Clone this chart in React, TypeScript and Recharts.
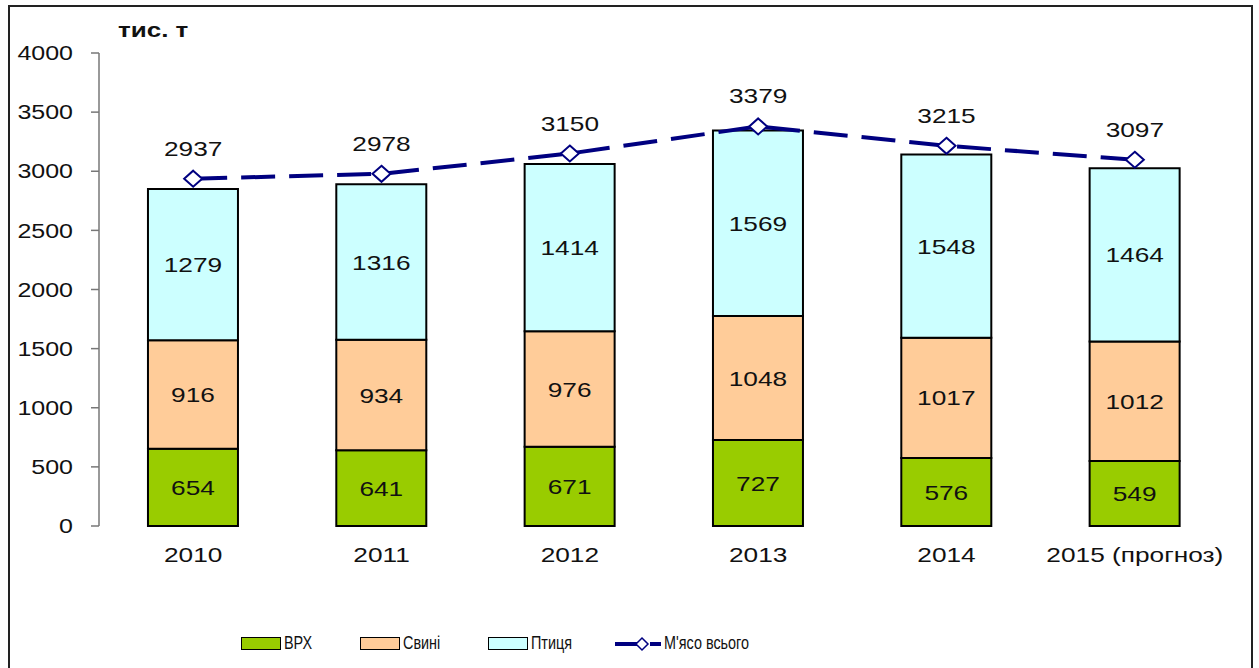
import { ComposedChart, Bar, Line, XAxis, YAxis, LabelList } from "recharts";

const years = ["2010", "2011", "2012", "2013", "2014", "2015 (прогноз)"];
const cattle = [654, 641, 671, 727, 576, 549];
const pigs = [916, 934, 976, 1048, 1017, 1012];
const poultry = [1279, 1316, 1414, 1569, 1548, 1464];
const totalMeat = [2937, 2978, 3150, 3379, 3215, 3097];
const yTicks = [0, 500, 1000, 1500, 2000, 2500, 3000, 3500, 4000];

const NAVY = "#000080";
const FONT = "'Liberation Sans', Arial, sans-serif";
const SX = 1.25; // source text is stretched horizontally

const data = years.map((year, i) => ({
  year,
  cattle: cattle[i],
  pigs: pigs[i],
  poultry: poultry[i],
  total: totalMeat[i],
}));

function WideText({ x, y, anchor, size, dy, children }: any) {
  return (
    <text
      transform={`translate(${x},${y}) scale(${SX},1)`}
      textAnchor={anchor}
      dy={dy}
      fontSize={size}
      fontFamily={FONT}
      fill="#111"
    >
      {children}
    </text>
  );
}

function YTick({ x, y, payload }: any) {
  return <WideText x={x} y={y} anchor="end" size={20} dy="0.36em">{payload.value}</WideText>;
}

function XTick({ x, y, payload }: any) {
  return <WideText x={x} y={y} anchor="middle" size={21} dy="0.71em">{payload.value}</WideText>;
}

function BarLabel(props: any) {
  const vb = props.viewBox ?? props;
  const cx = vb.x + (vb.width ?? 0) / 2;
  const cy = vb.y + (vb.height ?? 0) / 2;
  return <WideText x={cx} y={cy} anchor="middle" size={21} dy="0.36em">{props.value}</WideText>;
}

function LineLabel(props: any) {
  const vb = props.viewBox ?? props;
  return <WideText x={vb.x} y={vb.y - 23} anchor="middle" size={21}>{props.value}</WideText>;
}

function Diamond({ cx, cy }: { cx?: number; cy?: number }) {
  if (cx == null || cy == null) return null;
  const rx = 9;
  const ry = 8;
  return (
    <path
      d={`M${cx},${cy - ry} L${cx + rx},${cy} L${cx},${cy + ry} L${cx - rx},${cy} Z`}
      fill="#fff"
      stroke={NAVY}
      strokeWidth={2}
    />
  );
}

function LegendText({ children }: { children: string }) {
  return (
    <span style={{ display: "inline-block", transform: "scale(0.8,1)", transformOrigin: "left center", whiteSpace: "nowrap" }}>
      {children}
    </span>
  );
}

function LegendBox({ color, label }: { color: string; label: string }) {
  return (
    <div style={{ display: "flex", alignItems: "center", gap: 3 }}>
      <span style={{ width: 38, height: 11, background: color, border: "1.5px solid #000", display: "inline-block" }} />
      <LegendText>{label}</LegendText>
    </div>
  );
}

export default function App() {
  return (
    <div style={{ position: "absolute", left: 0, top: 0, width: 1259, height: 668, overflow: "hidden", background: "#fff" }}>
      <div style={{ position: "absolute", left: 8, top: 5, width: 1241, height: 700, border: "2px solid #222" }} />
      <div
        style={{
          position: "absolute",
          left: 118,
          top: 19,
          fontFamily: FONT,
          fontWeight: "bold",
          fontSize: 20,
          color: "#111",
          transform: "scale(1.3,1)",
          transformOrigin: "left center",
        }}
      >
        тис. т
      </div>
      <div style={{ position: "absolute", left: 0, top: 0 }}>
        <ComposedChart width={1259} height={668} data={data} margin={{ top: 53, right: 30, bottom: 102, left: 0 }} barCategoryGap="26%">
          <XAxis
            type="number"
            domain={[0, 6]}
            ticks={[0, 1, 2, 3, 4, 5, 6]}
            tick={false}
            tickSize={8}
            height={0}
            allowDataOverflow
            axisLine={{ stroke: "#777", strokeWidth: 1.5 }}
            tickLine={{ stroke: "#777", strokeWidth: 1.5 }}
          />
          <XAxis
            xAxisId="cat"
            dataKey="year"
            height={40}
            axisLine={false}
            tickLine={false}
            tickSize={0}
            tickMargin={21}
            tick={<XTick />}
            interval={0}
          />
          <YAxis
            width={99}
            domain={[0, 4000]}
            ticks={yTicks}
            tickSize={8}
            tickMargin={18}
            axisLine={{ stroke: "#777", strokeWidth: 1.5 }}
            tickLine={{ stroke: "#777", strokeWidth: 1.5 }}
            tick={<YTick />}
          />
          <Bar xAxisId="cat" dataKey="cattle" stackId="a" fill="#99CC00" stroke="#000" strokeWidth={2} isAnimationActive={false}>
            <LabelList dataKey="cattle" content={<BarLabel />} />
          </Bar>
          <Bar xAxisId="cat" dataKey="pigs" stackId="a" fill="#FFCC99" stroke="#000" strokeWidth={2} isAnimationActive={false}>
            <LabelList dataKey="pigs" content={<BarLabel />} />
          </Bar>
          <Bar xAxisId="cat" dataKey="poultry" stackId="a" fill="#CCFFFF" stroke="#000" strokeWidth={2} isAnimationActive={false}>
            <LabelList dataKey="poultry" content={<BarLabel />} />
          </Bar>
          <Line
            xAxisId="cat"
            dataKey="total"
            type="linear"
            stroke={NAVY}
            strokeWidth={4}
            strokeDasharray="34 14"
            dot={<Diamond />}
            activeDot={false}
            isAnimationActive={false}
          >
            <LabelList dataKey="total" content={<LineLabel />} />
          </Line>
        </ComposedChart>
      </div>
      <div
        style={{
          position: "absolute",
          top: 633,
          left: 241,
          display: "flex",
          alignItems: "center",
          fontFamily: FONT,
          fontSize: 18,
          color: "#111",
        }}
      >
        <div style={{ width: 119 }}><LegendBox color="#99CC00" label="ВРХ" /></div>
        <div style={{ width: 128 }}><LegendBox color="#FFCC99" label="Свині" /></div>
        <div style={{ width: 127 }}><LegendBox color="#CCFFFF" label="Птиця" /></div>
        <div style={{ display: "flex", alignItems: "center", gap: 3 }}>
          <svg width={46} height={16}>
            <line x1={0} y1={8} x2={22} y2={8} stroke={NAVY} strokeWidth={4} />
            <line x1={35} y1={8} x2={46} y2={8} stroke={NAVY} strokeWidth={4} />
            <path d="M27,2 L33,8 L27,14 L21,8 Z" fill="#fff" stroke={NAVY} strokeWidth={1.5} />
          </svg>
          <LegendText>М'ясо всього</LegendText>
        </div>
      </div>
    </div>
  );
}
